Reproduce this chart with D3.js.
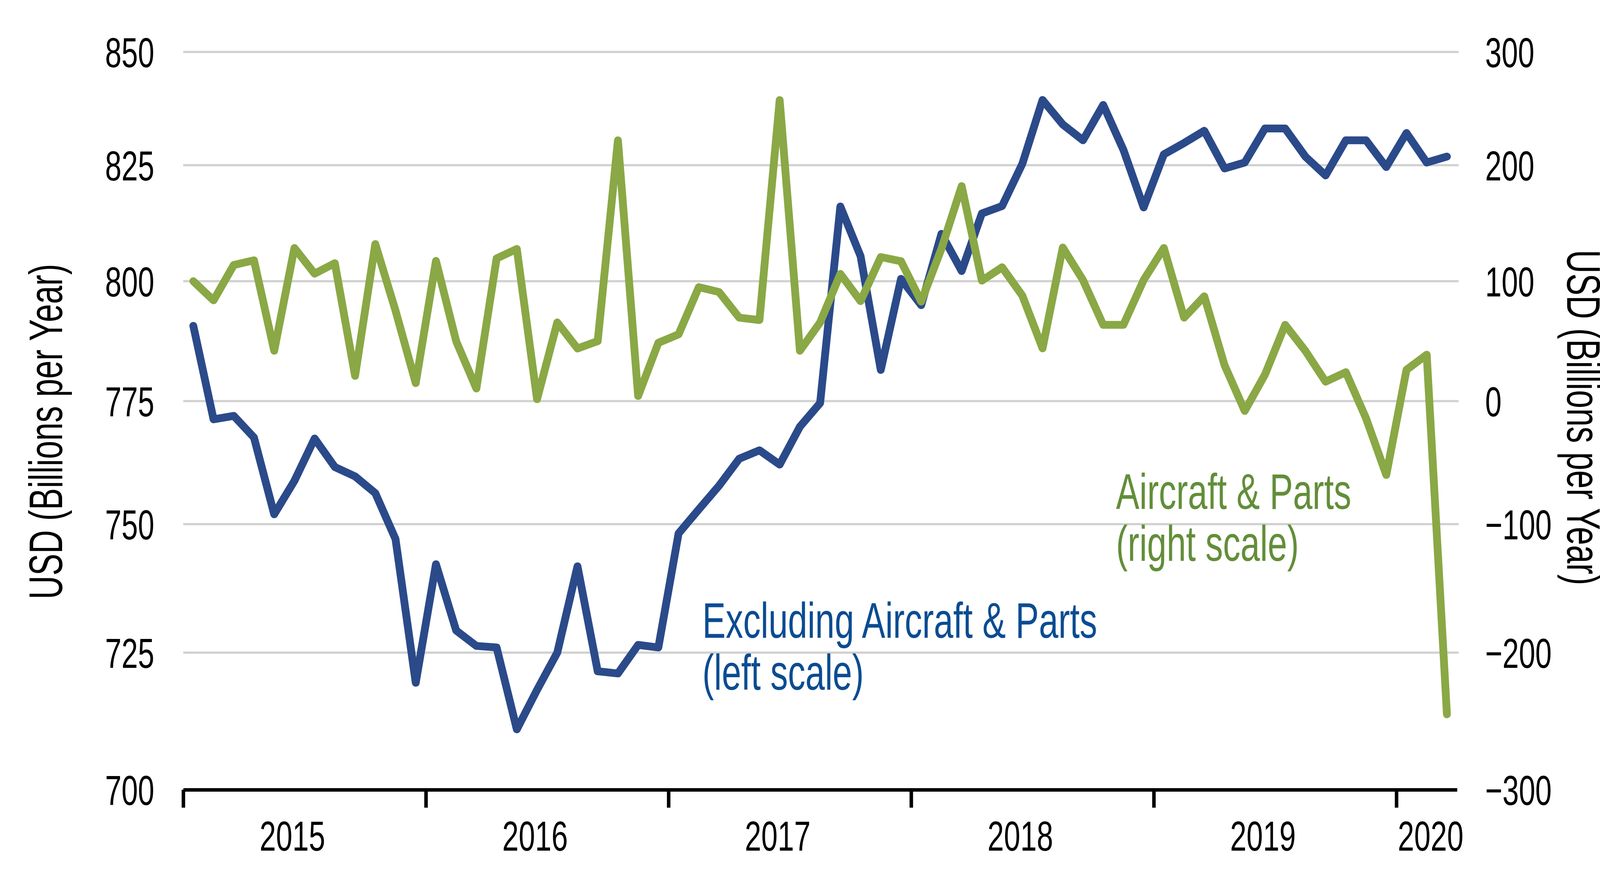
<!DOCTYPE html>
<html lang="en">
<head>
  <meta charset="UTF-8">
  <title>Capital Goods Orders: Excluding Aircraft vs Aircraft &amp; Parts</title>
  <script src="https://cdn.jsdelivr.net/npm/d3@7"></script>
  <style>
    body {
      margin: 0;
      background-color: #fff;
      overflow: hidden;
    }
    svg {
      display: block;
    }
    text {
      font-family: "Liberation Sans", Arial, sans-serif;
    }
    .tick-label {
      font-size: 108px;
      fill: #000;
    }
    .axis-title {
      font-size: 120px;
      fill: #000;
    }
    .note {
      font-size: 128px;
    }
  </style>
</head>
<body>
  <div id="chart"></div>
  <script>
    // monthly categories, Jan 2015 .. Mar 2020
    const months = d3.timeMonth.range(new Date(2015, 0, 1), new Date(2020, 3, 1));
    const yearLabels = ["2015", "2016", "2017", "2018", "2019", "2020"];
    const leftTicks = [700, 725, 750, 775, 800, 825, 850];
    const rightTicks = [-300, -200, -100, 0, 100, 200, 300];

    // USD bn per year, left scale
    const exAircraft = [
      790.7, 771.3, 772.0, 767.6, 752.0, 758.8, 767.4, 761.6, 759.7, 756.3, 747.1, 719.5,
      742.2, 729.3, 726.3, 726.0, 711.0, 718.2, 725.0, 741.8, 721.6, 721.2, 726.5, 726.0,
      748.2, 753.0, 757.8, 763.3, 765.0, 762.1, 769.8, 774.6, 816.1, 805.4, 781.5, 800.5,
      795.0, 810.2, 802.2, 814.6, 816.2, 825.3, 839.4, 834.0, 830.5, 838.3, 828.4, 815.9,
      827.4, 829.9, 832.6, 824.3, 825.6, 833.1, 833.1, 826.9, 822.8, 830.5, 830.5, 824.6,
      832.1, 825.6, 826.9
    ];
    // USD bn per year, right scale
    const aircraft = [
      100, 84, 114, 118, 42, 128.6, 106.5, 115.5, 21, 132, 75.5, 15,
      117.5, 50, 10.5, 119.6, 127.8, 1.6, 65.6, 43.9, 50, 222, 4.3, 48.6,
      55.7, 95, 91, 69.6, 67.6, 257.5, 42, 65.6, 106.3, 83.4, 120.8, 117.2,
      83, 128, 182, 100.5, 112, 88, 44, 129, 101, 63.6, 63.6, 101,
      128.6, 69.6, 87.4, 30, -8, 22.1, 63.6, 41.9, 16.2, 24.1, -14, -60,
      26.1, 38.7, -245
    ];

    const w = 4167;
    const h = 2266;
    const x0 = 469;
    const x1 = 3730;
    const gridRows = [2022, 1671, 1342, 1027, 720, 423, 133];
    // the original uses a condensed face, so squeeze the text horizontally
    const squeeze = 0.7;

    const xScale = d3.scaleLinear().domain([0, months.length]).range([x0, x1]);
    const yLeft = d3.scaleLinear().domain(leftTicks).range(gridRows);
    const yRight = d3.scaleLinear().domain(rightTicks).range(gridRows);

    const svg = d3.select("#chart")
      .append("svg")
      .attr("width", w)
      .attr("height", h);

    // gridlines
    svg.append("g")
      .selectAll("line")
      .data(leftTicks.slice(1))
      .enter()
      .append("line")
      .attr("x1", x0)
      .attr("x2", x1 + 4)
      .attr("y1", d => yLeft(d))
      .attr("y2", d => yLeft(d))
      .attr("stroke", "#d0d0d0")
      .attr("stroke-width", 5.5);

    // left axis labels
    svg.append("g")
      .attr("transform", "translate(" + x0 + ",0)")
      .call(d3.axisLeft(yLeft).tickValues(leftTicks).tickSize(0).tickFormat(d3.format("d")))
      .call(g => g.select(".domain").remove())
      .call(g => g.selectAll("text")
        .attr("class", "tick-label")
        .attr("x", -74 / squeeze)
        .attr("dy", "0.36em")
        .attr("transform", "scale(" + squeeze + ",1)"));

    // right axis labels
    svg.append("g")
      .attr("transform", "translate(" + x1 + ",0)")
      .call(d3.axisRight(yRight).tickValues(rightTicks).tickSize(0))
      .call(g => g.select(".domain").remove())
      .call(g => g.selectAll("text")
        .attr("class", "tick-label")
        .attr("x", 72 / squeeze)
        .attr("dy", "0.36em")
        .attr("transform", "scale(" + squeeze + ",1)"));

    // series
    const lineLeft = d3.line()
      .x((d, i) => xScale(i + 0.5))
      .y(d => yLeft(d));
    const lineRight = d3.line()
      .x((d, i) => xScale(i + 0.5))
      .y(d => yRight(d));

    svg.append("path")
      .datum(exAircraft)
      .attr("d", lineLeft)
      .attr("fill", "none")
      .attr("stroke", "#2b4a8a")
      .attr("stroke-width", 20)
      .attr("stroke-linejoin", "round")
      .attr("stroke-linecap", "round");

    svg.append("path")
      .datum(aircraft)
      .attr("d", lineRight)
      .attr("fill", "none")
      .attr("stroke", "#8aa845")
      .attr("stroke-width", 20)
      .attr("stroke-linejoin", "round")
      .attr("stroke-linecap", "round");

    // bottom axis with year ticks
    const yearStarts = d3.range(0, months.length, 12);
    svg.append("g")
      .attr("transform", "translate(0," + yLeft(700) + ")")
      .call(d3.axisBottom(xScale).tickValues(yearStarts).tickSize(46).tickSizeOuter(0).tickFormat(""))
      .call(g => g.select(".domain").attr("stroke", "#000").attr("stroke-width", 9))
      .call(g => g.selectAll(".tick line").attr("stroke", "#000").attr("stroke-width", 9));

    svg.append("g")
      .selectAll("text")
      .data(yearLabels)
      .enter()
      .append("text")
      .attr("class", "tick-label")
      .attr("text-anchor", "middle")
      .attr("transform", (d, i) => {
        const a = xScale(i * 12);
        const b = xScale(Math.min((i + 1) * 12, months.length));
        const cx = (a + b) / 2 + (b - a > 600 ? -31 : 10);
        return "translate(" + cx + ",2178) scale(" + squeeze + ",1)";
      })
      .text(d => d);

    // axis titles
    svg.append("text")
      .attr("class", "axis-title")
      .attr("text-anchor", "middle")
      .attr("transform", "translate(159,1105) rotate(-90) scale(" + squeeze + ",1)")
      .text("USD (Billions per Year)");

    svg.append("text")
      .attr("class", "axis-title")
      .attr("text-anchor", "middle")
      .attr("transform", "translate(4012,1069) rotate(90) scale(" + squeeze + ",1)")
      .text("USD (Billions per Year)");

    // series notes
    function note(lines, x, y, color) {
      const t = svg.append("text")
        .attr("class", "note")
        .attr("fill", color)
        .attr("transform", "translate(" + x + "," + y + ") scale(" + squeeze + ",1)");
      t.selectAll("tspan")
        .data(lines)
        .enter()
        .append("tspan")
        .attr("x", 0)
        .attr("y", (d, i) => i * 133)
        .text(d => d);
    }

    note(["Excluding Aircraft & Parts", "(left scale)"], 1798, 1633, "#0b4c92");
    note(["Aircraft & Parts", "(right scale)"], 2857, 1303, "#628e39");
  </script>
</body>
</html>
